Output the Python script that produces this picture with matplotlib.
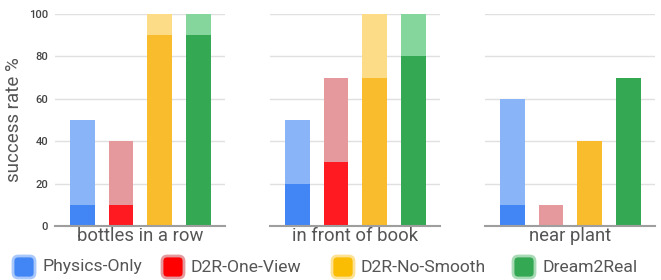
import matplotlib
matplotlib.use("Agg")
import matplotlib.pyplot as plt
from matplotlib.patches import FancyBboxPatch

categories = ["bottles in a row", "in front of book", "near plant"]
methods = ["Physics-Only", "D2R-One-View", "D2R-No-Smooth", "Dream2Real"]

physics_full = [10, 20, 10]
physics_total = [50, 50, 60]
oneview_full = [10, 30, 0]
oneview_total = [40, 70, 10]
nosmooth_full = [90, 70, 40]
nosmooth_total = [100, 100, 40]
dream_full = [90, 80, 70]
dream_total = [100, 100, 70]

yticks = [0, 20, 40, 60, 80, 100]

full_vals = [physics_full, oneview_full, nosmooth_full, dream_full]
total_vals = [physics_total, oneview_total, nosmooth_total, dream_total]

dark_colors = ["#4285F4", "#FF1A22", "#F9BC2C", "#34A853"]
light_colors = ["#8AB4F8", "#E6999C", "#FDDC87", "#84D69C"]
legend_fill = ["#4285F4", "#FF0000", "#FBBC04", "#34A853"]
legend_edge = ["#A8C7FA", "#E6999C", "#FDE293", "#A8DAB5"]

plt.rcParams['font.family'] = ['Roboto', 'DejaVu Sans']

W, H = 661, 280
fig = plt.figure(figsize=(W / 100, H / 100), dpi=100)

lefts = [55, 270, 485]
ax_w = 170
bottom_px, top_px = 226, 14

for i, cat in enumerate(categories):
    ax = fig.add_axes([lefts[i] / W, 1 - bottom_px / H, ax_w / W, (bottom_px - top_px) / H])
    for j in range(len(methods)):
        f = full_vals[j][i]
        t = total_vals[j][i]
        ax.bar(j, f, width=0.64, color=dark_colors[j], zorder=3)
        if t > f:
            ax.bar(j, t - f, bottom=f, width=0.64, color=light_colors[j], zorder=3)
    ax.set_xlim(-0.7, 3.68)
    ax.set_ylim(0, 100)
    ax.set_yticks(yticks)
    ax.yaxis.grid(True, color="#E0E0E0", linewidth=1, zorder=0)
    ax.set_axisbelow(True)
    for s in ["top", "right", "left"]:
        ax.spines[s].set_visible(False)
    ax.spines["bottom"].set_color("#9E9E9E")
    ax.spines["bottom"].set_linewidth(1.5)
    ax.spines["bottom"].set_zorder(4)
    ax.set_xticks([])
    ax.tick_params(axis="y", length=0, pad=5, labelsize=8)
    for lab in ax.get_yticklabels():
        lab.set_color("#444444")
        lab.set_fontweight("medium")
    if i > 0:
        ax.set_yticklabels([])
    else:
        ax.set_ylabel("success rate %", fontsize=13.5, color="#555555", labelpad=4)
    ax.set_xlabel(cat, fontsize=13.3, color="#555555", labelpad=1)

# legend
leg_x = [13, 162, 332, 513]
sq = 22
cy = 267
for j, name in enumerate(methods):
    x0 = leg_x[j]
    p = FancyBboxPatch((x0 / W, (H - cy - sq / 2) / H), sq / W, sq / H,
                       boxstyle="round,pad=0,rounding_size=0.008",
                       transform=fig.transFigure, facecolor=legend_fill[j],
                       edgecolor=legend_edge[j], linewidth=2, mutation_aspect=W / H)
    fig.patches.append(p)
    fig.text((x0 + sq + 7) / W, (H - cy) / H, name, fontsize=12.6, color="#555555",
             va="center", ha="left")

fig.savefig("out.png", dpi=100, facecolor="white")
